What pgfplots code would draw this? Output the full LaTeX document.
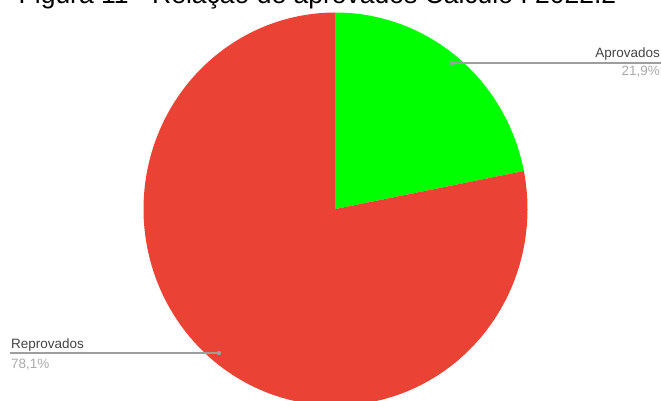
\documentclass[border=0pt]{standalone}
\usepackage{fontspec}
\setmainfont{Liberation Sans}
\usepackage{pgfplots}
\pgfplotsset{compat=1.18}
\definecolor{pieRed}{HTML}{EA4335}
\definecolor{pieGreen}{HTML}{00FF00}
\definecolor{lblDark}{HTML}{444444}
\definecolor{lblLight}{HTML}{AAAAAA}
\definecolor{lineGray}{HTML}{9E9E9E}
% values (percent)
\def\vAprov{21.9}
\def\vReprov{78.1}
\begin{document}
\begin{tikzpicture}
\begin{axis}[
  width=661pt, height=400pt, scale only axis,
  xmin=0, xmax=661, ymin=0, ymax=400,
  hide axis, clip=true,
]
% Aprovados slice: clockwise from top
\pgfmathsetmacro{\aStart}{90-3.6*\vAprov}
\addplot[fill=pieGreen, draw=none, domain=\aStart:90, samples=120, variable=\t]
  ({335.5+192*cos(\t)},{191+196.5*sin(\t)}) -- (335.5,191) -- cycle;
% Reprovados slice
\pgfmathsetmacro{\rEnd}{90+3.6*\vReprov}
\addplot[fill=pieRed, draw=none, domain=90:\rEnd, samples=300, variable=\t]
  ({335.5+192*cos(\t)},{191+196.5*sin(\t)}) -- (335.5,191) -- cycle;
% leader lines
\addplot[lineGray, line width=1.2pt, no markers] coordinates {(452,337) (661,337)};
\addplot[lineGray, only marks, mark=*, mark size=2pt] coordinates {(452,337)};
\addplot[lineGray, line width=1.2pt, no markers] coordinates {(10,47) (219,47)};
\addplot[lineGray, only marks, mark=*, mark size=2pt] coordinates {(219,47)};
% labels
\node[anchor=base east, inner sep=0pt, text=lblDark, font=\fontsize{13.5}{16}\selectfont] at (axis cs:660,342) {Aprovados};
\node[anchor=base east, inner sep=0pt, text=lblLight, font=\fontsize{13.5}{16}\selectfont] at (axis cs:660,324) {21,9\%};
\node[anchor=base west, inner sep=0pt, text=lblDark, font=\fontsize{13.5}{16}\selectfont] at (axis cs:11,52) {Reprovados};
\node[anchor=base west, inner sep=0pt, text=lblLight, font=\fontsize{13.5}{16}\selectfont] at (axis cs:11,32) {78,1\%};
% title (top cut off as in reference)
\node[anchor=base, inner sep=0pt, text=black, font=\fontsize{26.5}{30}\selectfont] at (axis cs:317.5,396) {Figura 11 - Relação de aprovados Cálculo I 2022.2};
\end{axis}
\pgfresetboundingbox
\useasboundingbox (current axis.south west) rectangle (current axis.north east);
\end{tikzpicture}
\end{document}
